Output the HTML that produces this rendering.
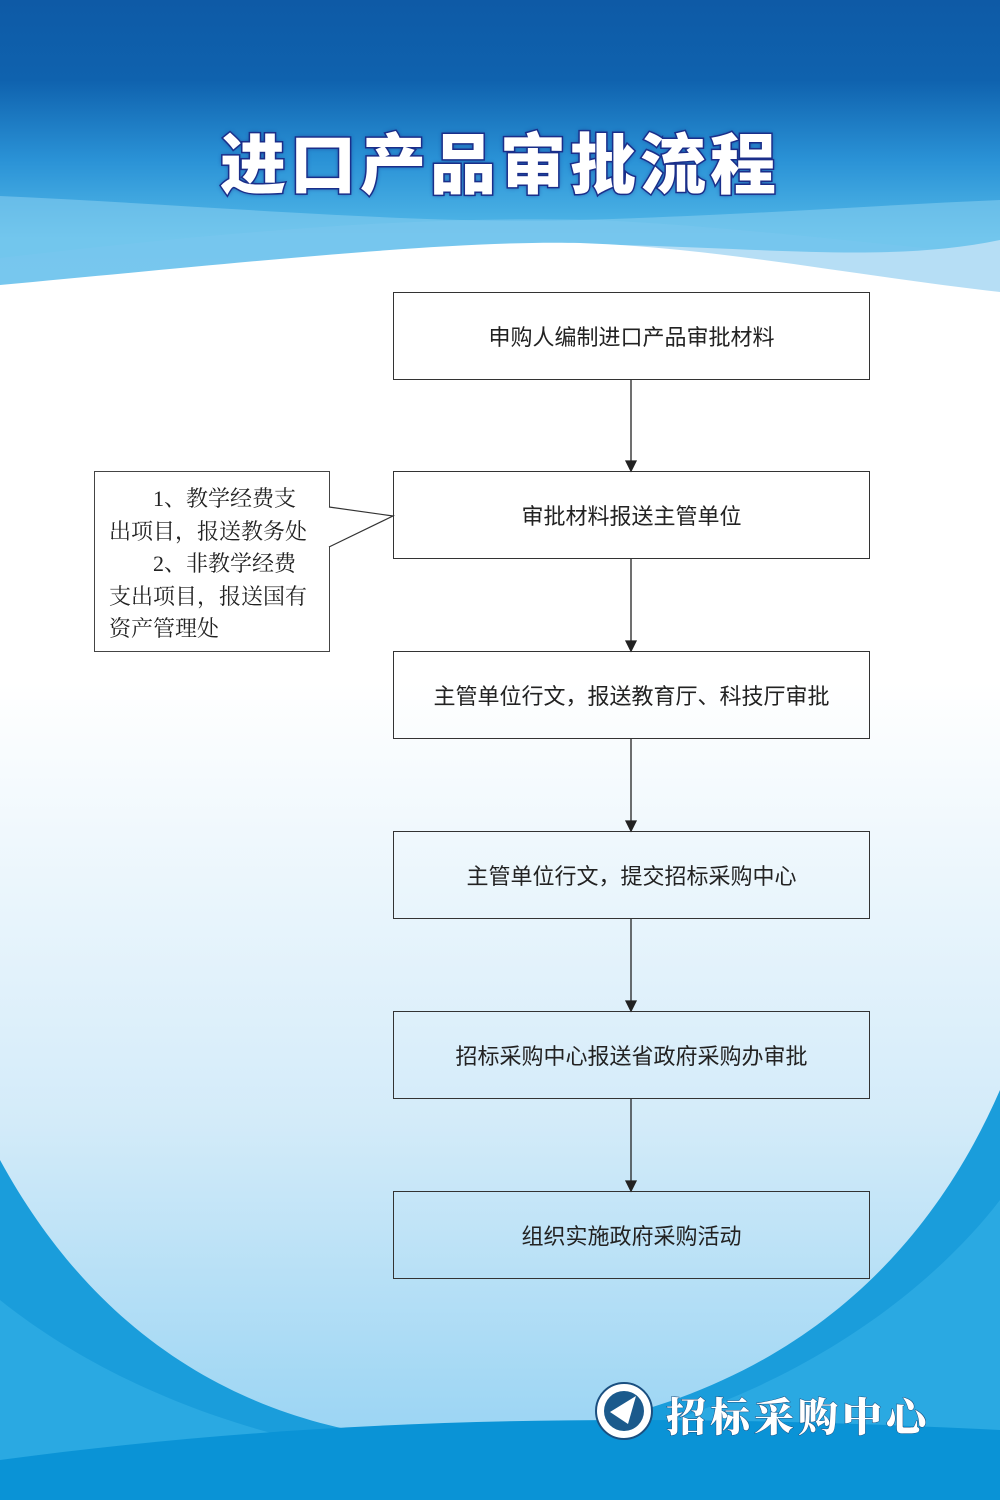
<!DOCTYPE html>
<html><head><meta charset="utf-8">
<style>
html,body{margin:0;padding:0}
body{width:1000px;height:1500px;position:relative;overflow:hidden;font-family:"Liberation Sans","Noto Sans CJK SC",sans-serif}
svg{position:absolute;left:0;top:0}
.box{position:absolute;left:393px;width:477px;height:88px;border:1px solid #333;box-sizing:border-box;display:flex;align-items:center;justify-content:center;font-size:22px;color:#222;font-family:"Noto Sans CJK SC",sans-serif}
.note{position:absolute;left:94px;top:471px;width:236px;height:181px;border:1px solid #444;box-sizing:border-box;background:#fff;padding:11px 10px 0 14px;font-size:22px;line-height:32.5px;color:#222;font-family:"Liberation Serif","Noto Serif CJK SC",serif}
.title{position:absolute;left:0;width:1000px;top:112px;text-align:center;font-size:66px;font-weight:900;color:#fff;letter-spacing:4px;font-family:"Noto Sans CJK SC",sans-serif;-webkit-text-stroke:3px #1b2f8a;paint-order:stroke fill;text-shadow:0 0 5px #1b2f8a}
.logo{position:absolute;left:666px;top:1386px;font-size:40px;color:#fff;font-family:"Noto Serif CJK SC",serif;font-weight:900;letter-spacing:4px;-webkit-text-stroke:1px #1a4f80;paint-order:stroke fill}
</style></head><body>
<svg width="1000" height="1500" viewBox="0 0 1000 1500">
<defs>
<linearGradient id="top" x1="0" y1="0" x2="0" y2="1">
<stop offset="0" stop-color="#0e5aa6"/><stop offset="0.25" stop-color="#0f62ae"/><stop offset="0.5" stop-color="#2a92d6"/><stop offset="0.75" stop-color="#55bbe9"/><stop offset="1" stop-color="#5cbde9"/>
</linearGradient>
<linearGradient id="mid" x1="0" y1="0" x2="0" y2="1">
<stop offset="0" stop-color="#ffffff"/><stop offset="0.35" stop-color="#ffffff"/><stop offset="0.7" stop-color="#d3ebf9"/><stop offset="1" stop-color="#8fd0f2"/>
</linearGradient>
</defs>
<rect width="1000" height="1500" fill="url(#mid)"/>
<rect width="1000" height="320" fill="url(#top)"/>
<path d="M0 196 C200 205 420 225 580 220 C750 215 880 205 1000 200 L1000 320 L0 320Z" fill="#8bd0f0" opacity="0.55"/>
<path d="M0 258 C200 235 400 215 600 220 C750 228 880 245 1000 255 L1000 320 L0 320Z" fill="#79c7ee" opacity="0.6"/>
<path d="M560 244 C750 245 880 265 1000 240 L1000 330 Z" fill="#b6def5"/>
<path d="M0 285 C250 262 450 240 580 243 C720 248 850 275 1000 292 L1000 1500 L0 1500Z" fill="url(#mid)"/>
<path d="M0 1160 C120 1380 300 1430 420 1440 C700 1440 900 1320 1000 1090 L1000 1500 L0 1500Z" fill="#1a9ddb"/>
<path d="M0 1300 C150 1420 350 1460 450 1460 C700 1450 900 1330 1000 1200 L1000 1500 L0 1500Z" fill="#36b0e6" opacity="0.6"/>
<path d="M0 1460 C300 1420 600 1410 1000 1430 L1000 1500 L0 1500Z" fill="#0a93d6"/>
<g stroke="#222" stroke-width="1.3" fill="#222">
<line x1="631" y1="379" x2="631" y2="463"/><polygon points="626,461 636,461 631,471"/>
<line x1="631" y1="558" x2="631" y2="643"/><polygon points="626,641 636,641 631,651"/>
<line x1="631" y1="738" x2="631" y2="823"/><polygon points="626,821 636,821 631,831"/>
<line x1="631" y1="918" x2="631" y2="1003"/><polygon points="626,1001 636,1001 631,1011"/>
<line x1="631" y1="1098" x2="631" y2="1183"/><polygon points="626,1181 636,1181 631,1191"/>
</g>
<circle cx="624" cy="1411" r="28" fill="#fff" stroke="#1a4f80" stroke-width="2"/>
<circle cx="624" cy="1411" r="20" fill="#1b5a8c"/>
<polygon points="610,1412 636,1396 628,1424" fill="#fff"/>
</svg>
<div class="title">进口产品审批流程</div>
<div class="box" style="top:292px">申购人编制进口产品审批材料</div>
<div class="box" style="top:471px">审批材料报送主管单位</div>
<div class="box" style="top:651px">主管单位行文，报送教育厅、科技厅审批</div>
<div class="box" style="top:831px">主管单位行文，提交招标采购中心</div>
<div class="box" style="top:1011px">招标采购中心报送省政府采购办审批</div>
<div class="box" style="top:1191px">组织实施政府采购活动</div>
<div class="note">&emsp;&emsp;1、教学经费支<br>出项目，报送教务处<br>&emsp;&emsp;2、非教学经费<br>支出项目，报送国有<br>资产管理处</div>
<svg width="1000" height="1500" viewBox="0 0 1000 1500" style="pointer-events:none">
<polygon points="328,507 393,516 328,547" fill="#fff"/>
<polyline points="329,507 393,516 329,547" fill="none" stroke="#333" stroke-width="1.2"/>
</svg>
<div class="logo">招标采购中心</div>
</body></html>
